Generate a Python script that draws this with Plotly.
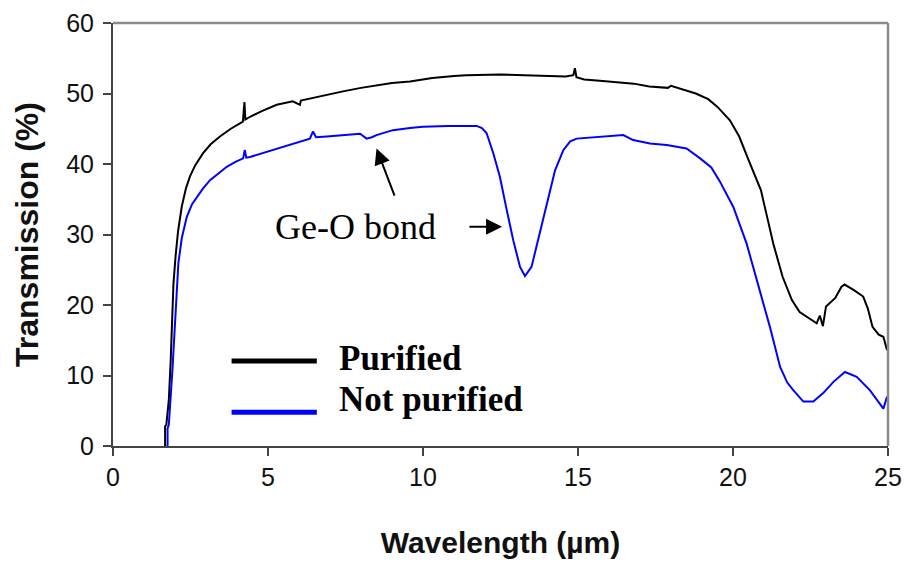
import plotly.graph_objects as go

# ---- data ----
purified_wl = [1.68, 1.68, 1.72, 1.80, 1.86, 1.90, 1.95, 2.02, 2.10, 2.22, 2.35, 2.48, 2.65, 2.90,
               3.15, 3.45, 3.80, 4.19, 4.24, 4.27, 4.42, 4.80, 5.28, 5.80, 6.03, 6.06, 6.35, 6.90,
               7.42, 8.00, 8.50, 9.00, 9.58, 10.3, 11.0, 11.4, 12.5, 13.5, 14.6, 14.85, 14.9,
               14.95, 15.2, 15.7, 16.3, 16.8, 17.3, 17.9, 18.0, 18.4, 18.8, 19.2, 19.5, 19.9,
               20.2, 20.5, 20.9, 21.1, 21.3, 21.6, 21.9, 22.15, 22.4, 22.7, 22.8, 22.9, 23.0,
               23.3, 23.5, 23.6, 23.9, 24.2, 24.35, 24.5, 24.7, 24.85, 24.97]
purified_tr = [0, 2.8, 3.0, 6.5, 12, 17, 23, 27, 30.5, 34, 36.5, 38.2, 39.8, 41.5,
               42.8, 43.9, 45.0, 46.0, 48.8, 46.3, 46.7, 47.5, 48.4, 48.9, 48.4, 49.0, 49.3, 49.8,
               50.3, 50.8, 51.2, 51.5, 51.7, 52.2, 52.5, 52.6, 52.7, 52.6, 52.4, 52.6, 53.6,
               52.3, 52.0, 51.8, 51.6, 51.4, 51.0, 50.8, 51.1, 50.6, 50.0, 49.2, 48.1, 46.2,
               43.9, 40.6, 36.3, 32.5, 28.7, 24.0, 20.7, 19.0, 18.3, 17.4, 18.5, 17.0, 19.8,
               21.0, 22.6, 22.9, 22.1, 21.2, 19.5, 16.9, 15.8, 15.5, 13.6]

notpur_wl = [1.76, 1.76, 1.80, 1.86, 1.92, 1.97, 2.03, 2.11, 2.22, 2.38, 2.55, 2.70, 2.90, 3.13,
             3.40, 3.67, 3.95, 4.20, 4.25, 4.30, 4.42, 4.85, 5.28, 5.80, 6.35, 6.45, 6.55, 6.90,
             7.42, 7.97, 8.18, 8.35, 8.50, 9.03, 9.58, 10.0, 10.8, 11.73, 11.9, 12.05, 12.27,
             12.48, 12.70, 12.91, 13.13, 13.29, 13.50, 13.77, 13.99, 14.26, 14.53, 14.75, 14.96,
             15.71, 16.46, 16.78, 17.32, 17.86, 18.5, 18.94, 19.3, 19.58, 20.01, 20.44, 20.87,
             21.19, 21.52, 21.75, 21.95, 22.27, 22.59, 22.91, 23.24, 23.61, 23.99, 24.42, 24.85,
             24.97]
notpur_tr = [0, 2.5, 3.0, 6.5, 11, 15, 20, 26, 29.5, 32.5, 34.3, 35.3, 36.5, 37.7,
             38.7, 39.6, 40.3, 40.8, 42.0, 40.9, 41.0, 41.6, 42.2, 42.9, 43.6, 44.6, 43.8, 43.9,
             44.1, 44.3, 43.6, 43.8, 44.1, 44.8, 45.1, 45.3, 45.4, 45.4, 45.1, 44.4, 41.5,
             38.2, 33.5, 29.2, 25.4, 24.1, 25.4, 30.2, 34.4, 39.1, 42.0, 43.2, 43.6,
             43.9, 44.1, 43.4, 42.9, 42.7, 42.2, 40.8, 39.5, 37.5, 33.9, 28.7, 22.1,
             16.9, 11.2, 9.0, 7.9, 6.3, 6.3, 7.5, 9.1, 10.5, 9.8, 7.9, 5.3,
             7.0]

series_names = ["Purified", "Not purified"]
series_colors = ["#000000", "#0000ff"]
x_ticks = [0, 5, 10, 15, 20, 25]
y_ticks = [0, 10, 20, 30, 40, 50, 60]

fig = go.Figure()
fig.add_trace(go.Scatter(x=purified_wl, y=purified_tr, mode="lines",
                         line=dict(color=series_colors[0], width=2), name=series_names[0]))
fig.add_trace(go.Scatter(x=notpur_wl, y=notpur_tr, mode="lines",
                         line=dict(color=series_colors[1], width=2), name=series_names[1]))

tickfont = dict(family="Liberation Sans, Arial", size=25, color="#111")
fig.update_xaxes(range=[0, 25], tickvals=x_ticks, ticks="outside", ticklen=8, tickwidth=2,
                 tickcolor="#444", showline=True, linecolor="#444", linewidth=2,
                 showgrid=False, zeroline=False, tickfont=tickfont, automargin=False,
                 title=dict(text="<b>Wavelength (µm)</b>",
                            font=dict(family="Liberation Sans, Arial", size=30, color="#111"),
                            standoff=42))
fig.update_yaxes(range=[0, 60], tickvals=y_ticks, ticks="outside", ticklen=8, tickwidth=2,
                 tickcolor="#444", showline=True, linecolor="#444", linewidth=2,
                 showgrid=False, zeroline=False, tickfont=tickfont, automargin=False,
                 ticklabelstandoff=4,
                 title=dict(text="<b>Transmission (%)</b>",
                            font=dict(family="Liberation Sans, Arial", size=32, color="#111"),
                            standoff=18))

# frame top/right
fig.add_shape(type="line", xref="paper", yref="paper", x0=0, x1=1, y0=1, y1=1,
              line=dict(color="#8a8a8a", width=2.5))
fig.add_shape(type="line", xref="paper", yref="paper", x0=1, x1=1, y0=0, y1=1,
              line=dict(color="#8a8a8a", width=2.5))

# legend drawn inside
leg_y = [0.201, 0.080]
leg_ty = [0.207, 0.110]
for name, col, ly, ty in zip(series_names, series_colors, leg_y, leg_ty):
    fig.add_shape(type="line", xref="paper", yref="paper", x0=0.153, x1=0.263, y0=ly, y1=ly,
                  line=dict(color=col, width=5))
    fig.add_annotation(xref="paper", yref="paper", x=0.289, y=ty, text="<b>%s</b>" % name,
                       showarrow=False, xanchor="left", yanchor="middle",
                       font=dict(family="Liberation Serif, Times New Roman", size=35, color="#000"))

# Ge-O bond annotation and arrows
fig.add_annotation(x=7.82, y=31.0, xref="x", yref="y", text="Ge-O bond", showarrow=False,
                   font=dict(family="Liberation Serif, Times New Roman", size=36, color="#000"))
fig.add_annotation(x=8.5, y=42.2, ax=9.1, ay=35.3, xref="x", yref="y", axref="x", ayref="y",
                   text="", showarrow=True, arrowhead=2, arrowsize=1.6, arrowwidth=2,
                   arrowcolor="#000")
fig.add_annotation(x=12.55, y=31.1, ax=11.45, ay=31.1, xref="x", yref="y", axref="x", ayref="y",
                   text="", showarrow=True, arrowhead=2, arrowsize=1.6, arrowwidth=2,
                   arrowcolor="#000")

fig.update_layout(width=904, height=564, margin=dict(l=113, r=16, t=23, b=118),
                  paper_bgcolor="white", plot_bgcolor="white", showlegend=False)

fig.write_html("out.html")
